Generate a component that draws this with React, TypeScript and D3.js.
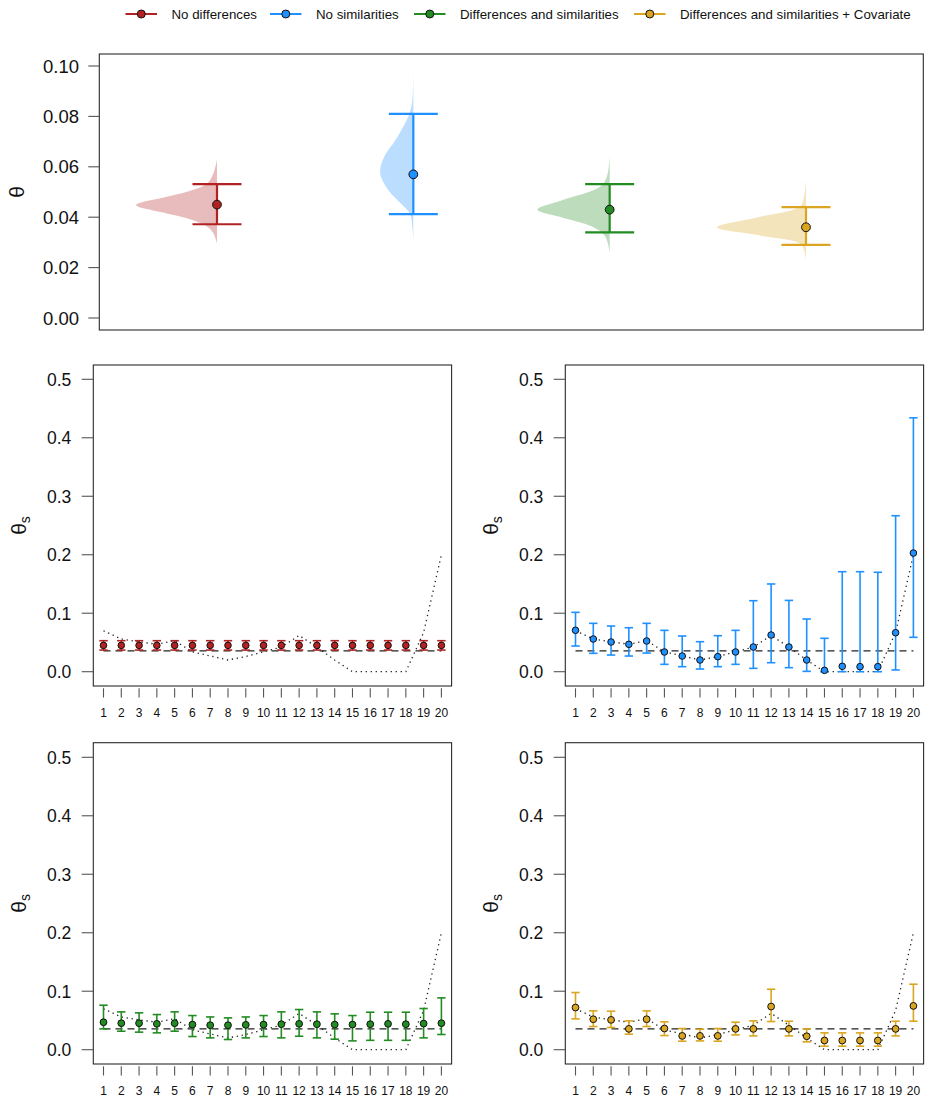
import React from 'react';
import * as d3 from 'd3';

// ---------- DATA ----------
const groups = [
  'No differences',
  'No similarities',
  'Differences and similarities',
  'Differences and similarities + Covariate',
];
const colors = ['#B22222', '#1E90FF', '#228B22', '#DAA520'];

// pooled theta (top panel)
const thetaMedian = [0.045, 0.057, 0.043, 0.036];
const thetaLower = [0.0372, 0.0412, 0.034, 0.029];
const thetaUpper = [0.0531, 0.081, 0.0531, 0.044];

// posterior density outlines: [theta, density]
const densNoDiff: [number, number][] = [
  [0.0296, 0], [0.0336, 4.5], [0.0362, 12], [0.0396, 37], [0.0415, 62], [0.0448, 100],
  [0.0481, 62], [0.0501, 37], [0.0534, 12], [0.0574, 4.5], [0.0627, 0],
];
const densNoSim: [number, number][] = [
  [0.031, 0], [0.036, 1.2], [0.0413, 4], [0.0456, 16], [0.0508, 31], [0.0575, 41],
  [0.064, 36], [0.0706, 22], [0.081, 5], [0.0865, 1.2], [0.0997, 0],
];
const densDiffSim: [number, number][] = [
  [0.0258, 0], [0.030, 2.5], [0.033, 7], [0.0362, 21], [0.0402, 62], [0.043, 89],
  [0.0468, 58], [0.0521, 12], [0.056, 3.5], [0.064, 0],
];
const densDiffSimCov: [number, number][] = [
  [0.023, 0], [0.027, 2.5], [0.0296, 7.5], [0.0328, 58], [0.036, 110],
  [0.040, 59], [0.0442, 7.5], [0.048, 2.5], [0.0548, 0],
];
const densities = [densNoDiff, densNoSim, densDiffSim, densDiffSimCov];

const units = [1, 2, 3, 4, 5, 6, 7, 8, 9, 10, 11, 12, 13, 14, 15, 16, 17, 18, 19, 20];
const observed = [0.070, 0.056, 0.051, 0.047, 0.053, 0.034, 0.027, 0.020, 0.026, 0.034,
  0.042, 0.062, 0.042, 0.020, 0, 0, 0, 0, 0.067, 0.200];
const pooledRate = 0.0355;

const noDiffMed = [0.045, 0.045, 0.045, 0.045, 0.045, 0.045, 0.045, 0.045, 0.045, 0.045,
  0.045, 0.045, 0.045, 0.045, 0.045, 0.045, 0.045, 0.045, 0.045, 0.045];
const noDiffLo = [0.037, 0.037, 0.037, 0.037, 0.037, 0.037, 0.037, 0.037, 0.037, 0.037,
  0.037, 0.037, 0.037, 0.037, 0.037, 0.037, 0.037, 0.037, 0.037, 0.037];
const noDiffHi = [0.053, 0.053, 0.053, 0.053, 0.053, 0.053, 0.053, 0.053, 0.053, 0.053,
  0.053, 0.053, 0.053, 0.053, 0.053, 0.053, 0.053, 0.053, 0.053, 0.053];

const noSimMed = [0.0708, 0.0559, 0.0508, 0.0468, 0.0525, 0.0337, 0.0268, 0.020, 0.0257, 0.0337,
  0.0422, 0.0627, 0.0422, 0.020, 0.0023, 0.0092, 0.0086, 0.0086, 0.0667, 0.2029];
const noSimLo = [0.0439, 0.0314, 0.0285, 0.0268, 0.0319, 0.0126, 0.0086, 0.0046, 0.0086, 0.0126,
  0.0057, 0.0154, 0.0069, 0.0006, 0, 0, 0, 0, 0.003, 0.0588];
const noSimHi = [0.1015, 0.0827, 0.0781, 0.0752, 0.0827, 0.0707, 0.061, 0.0513, 0.0616, 0.0707,
  0.1214, 0.15, 0.1219, 0.0901, 0.0571, 0.171, 0.171, 0.170, 0.2667, 0.4342];

const diffSimMed = [0.047, 0.0453, 0.0453, 0.0442, 0.0453, 0.043, 0.0419, 0.0419, 0.0425, 0.043,
  0.0436, 0.0442, 0.0436, 0.043, 0.043, 0.0436, 0.0442, 0.0436, 0.0447, 0.0453];
const diffSimLo = [0.0356, 0.0316, 0.030, 0.0288, 0.0316, 0.0225, 0.0202, 0.0174, 0.0202, 0.0225,
  0.0202, 0.023, 0.0202, 0.018, 0.0151, 0.016, 0.016, 0.016, 0.0202, 0.026];
const diffSimHi = [0.0761, 0.0647, 0.063, 0.0601, 0.0647, 0.0584, 0.056, 0.0544, 0.056, 0.0584,
  0.0647, 0.0687, 0.0647, 0.0613, 0.0584, 0.0641, 0.0641, 0.0641, 0.0704, 0.0886];

const covMed = [0.0721, 0.0521, 0.051, 0.0356, 0.0521, 0.0362, 0.0236, 0.0236, 0.0236, 0.0356,
  0.0356, 0.0738, 0.0356, 0.023, 0.0157, 0.0157, 0.0157, 0.0157, 0.0356, 0.0749];
const covLo = [0.0527, 0.0396, 0.0379, 0.0265, 0.0396, 0.0242, 0.0145, 0.0151, 0.0145, 0.0253,
  0.0236, 0.0482, 0.0236, 0.0134, 0.006, 0.006, 0.006, 0.006, 0.0236, 0.0487];
const covHi = [0.0978, 0.0664, 0.0658, 0.0493, 0.0664, 0.0476, 0.0362, 0.035, 0.0362, 0.047,
  0.0493, 0.1034, 0.0487, 0.0356, 0.0288, 0.0288, 0.0288, 0.0288, 0.0487, 0.112];

const topTicks = [0, 0.02, 0.04, 0.06, 0.08, 0.1];
const unitTicks = [0, 0.1, 0.2, 0.3, 0.4, 0.5];

// ---------- RENDER ----------
const FONT = "'Liberation Sans', Arial, Helvetica, sans-serif";
const BOX = '#2a2a2a';
const TICK = '#555';

type PanelSpec = {
  x0: number; x1: number; y0: number; y1: number;
  med: number[]; lo: number[]; hi: number[]; color: string; r: number;
};

function UnitPanel({ p }: { p: PanelSpec }) {
  const inset = 10.2;
  const x = d3.scaleLinear().domain([1, 20]).range([p.x0 + inset, p.x1 - inset]);
  const y = d3.scaleLinear().domain([0, 0.5]).range([p.y1 - 14.3, p.y1 - 14.3 - 292.4]);
  const line = d3.line<number>().x((_, i) => x(units[i])).y((d) => y(d));
  const flat = d3.line<number>().x((d) => x(d)).y(() => y(pooledRate));
  const cap = 4.2;
  return (
    <g>
      <rect x={p.x0} y={p.y0} width={p.x1 - p.x0} height={p.y1 - p.y0} fill="none" stroke={BOX} strokeWidth={1.1} />
      {unitTicks.map((t) => (
        <g key={t}>
          <line x1={p.x0 - 11.6} x2={p.x0} y1={y(t)} y2={y(t)} stroke={TICK} strokeWidth={1.1} />
          <text x={p.x0 - 22} y={y(t)} dy="0.36em" textAnchor="end" fontSize={17.5} fontFamily={FONT} fill="#111">
            {d3.format('.1f')(t)}
          </text>
        </g>
      ))}
      {units.map((u) => (
        <g key={u}>
          <line x1={x(u)} x2={x(u)} y1={p.y1 + 2.3} y2={p.y1 + 11.5} stroke={TICK} strokeWidth={1.1} />
          <text x={x(u)} y={p.y1 + 26.7} dy="0.36em" textAnchor="middle" fontSize={12} fontFamily={FONT} fill="#111">
            {u}
          </text>
        </g>
      ))}
      <text transform={`translate(${p.x0 - 67},${(p.y0 + p.y1) / 2}) rotate(-90)`} textAnchor="middle" fontFamily={FONT} fill="#111">
        <tspan fontSize={21}>θ</tspan>
        <tspan fontSize={14} dy={4}>s</tspan>
      </text>
      <path d={line(observed) || ''} fill="none" stroke="#222" strokeWidth={1.3} strokeDasharray="1.3,3.7" />
      <path d={flat([1, 20]) || ''} fill="none" stroke="#222" strokeWidth={1.3} strokeDasharray="7,5" />
      {units.map((u, i) => (
        <g key={u} stroke={p.color} strokeWidth={1.6}>
          <line x1={x(u)} x2={x(u)} y1={y(p.lo[i])} y2={y(p.hi[i])} />
          <line x1={x(u) - cap} x2={x(u) + cap} y1={y(p.lo[i])} y2={y(p.lo[i])} />
          <line x1={x(u) - cap} x2={x(u) + cap} y1={y(p.hi[i])} y2={y(p.hi[i])} />
        </g>
      ))}
      {units.map((u, i) => (
        <circle key={u} cx={x(u)} cy={y(p.med[i])} r={p.r} fill={p.color} stroke="#111" strokeWidth={1} />
      ))}
    </g>
  );
}

export default function App() {
  const W = 925, H = 1098;
  const top = { x0: 99.3, x1: 923.3, y0: 54, y1: 330 };
  const xTop = d3.scaleLinear().domain([1, 4]).range([217, 806]);
  const yTop = d3.scaleLinear().domain([0, 0.1]).range([318, 66]);
  const wTop = d3.scaleLinear().domain([0, 100]).range([0, 81]);
  const area = d3.area<[number, number]>().curve(d3.curveCatmullRom.alpha(0.5));

  const legendX = [125.5, 270, 414, 634];
  const legendY = 14;

  const L = { x0: 93.3, x1: 451.6 };
  const R = { x0: 565.3, x1: 923.6 };
  const MID = { y0: 365, y1: 686 };
  const BOT = { y0: 742.7, y1: 1064 };

  const panels: PanelSpec[] = [
    { ...L, ...MID, med: noDiffMed, lo: noDiffLo, hi: noDiffHi, color: colors[0], r: 3.3 },
    { ...R, ...MID, med: noSimMed, lo: noSimLo, hi: noSimHi, color: colors[1], r: 3.3 },
    { ...L, ...BOT, med: diffSimMed, lo: diffSimLo, hi: diffSimHi, color: colors[2], r: 3.4 },
    { ...R, ...BOT, med: covMed, lo: covLo, hi: covHi, color: colors[3], r: 3.4 },
  ];

  return (
    <svg width={W} height={H} style={{ position: 'absolute', left: 0, top: 0, background: '#fff' }}>
      {/* legend */}
      {groups.map((g, i) => (
        <g key={g}>
          <line x1={legendX[i]} x2={legendX[i] + 31.5} y1={legendY} y2={legendY} stroke={colors[i]} strokeWidth={2} />
          <circle cx={legendX[i] + 15.8} cy={legendY} r={4} fill={colors[i]} stroke="#111" strokeWidth={1} />
          <text x={legendX[i] + 46} y={legendY} dy="0.36em" fontSize={13.3} fontFamily={FONT} fill="#111">{g}</text>
        </g>
      ))}

      {/* top panel */}
      <rect x={top.x0} y={top.y0} width={top.x1 - top.x0} height={top.y1 - top.y0} fill="none" stroke={BOX} strokeWidth={1.1} />
      {topTicks.map((t) => (
        <g key={t}>
          <line x1={top.x0 - 11} x2={top.x0} y1={yTop(t)} y2={yTop(t)} stroke={TICK} strokeWidth={1.1} />
          <text x={top.x0 - 20.3} y={yTop(t)} dy="0.36em" textAnchor="end" fontSize={18.5} fontFamily={FONT} fill="#111">
            {d3.format('.2f')(t)}
          </text>
        </g>
      ))}
      <text transform={`translate(24,${(top.y0 + top.y1) / 2}) rotate(-90)`} textAnchor="middle" fontSize={21} fontFamily={FONT} fill="#111">θ</text>
      {densities.map((dens, i) => {
        const cx = xTop(i + 1);
        const a = area
          .y((d) => yTop(d[0]))
          .x0((d) => cx - wTop(d[1]))
          .x1(() => cx);
        return <path key={i} d={a(dens) || ''} fill={colors[i]} fillOpacity={0.3} stroke="none" />;
      })}
      {groups.map((g, i) => {
        const cx = xTop(i + 1);
        return (
          <g key={g} stroke={colors[i]} strokeWidth={2.2}>
            <line x1={cx} x2={cx} y1={yTop(thetaLower[i])} y2={yTop(thetaUpper[i])} />
            <line x1={cx - 24.5} x2={cx + 24.5} y1={yTop(thetaLower[i])} y2={yTop(thetaLower[i])} />
            <line x1={cx - 24.5} x2={cx + 24.5} y1={yTop(thetaUpper[i])} y2={yTop(thetaUpper[i])} />
            <circle cx={cx} cy={yTop(thetaMedian[i])} r={4.4} fill={colors[i]} stroke="#111" strokeWidth={1} />
          </g>
        );
      })}

      {panels.map((p, i) => <UnitPanel key={i} p={p} />)}
    </svg>
  );
}
